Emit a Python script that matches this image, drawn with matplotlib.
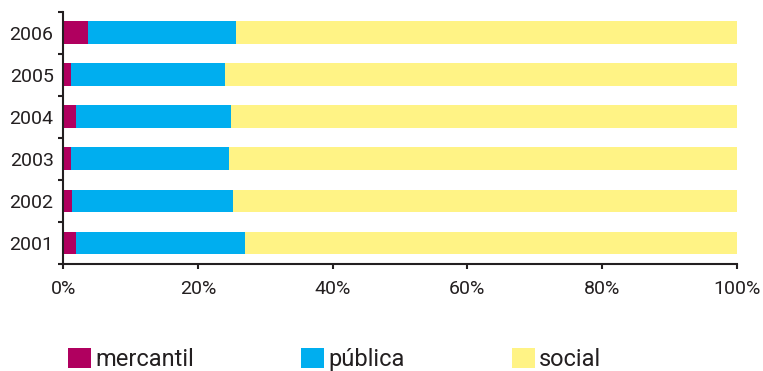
import numpy as np
import matplotlib
matplotlib.use('Agg')
import matplotlib.pyplot as plt
from matplotlib.ticker import FuncFormatter, FixedLocator

# data (share of each sector per year, in %)
years = ['2001', '2002', '2003', '2004', '2005', '2006']
mercantil = [1.9, 1.3, 1.1, 1.9, 1.1, 3.7]
publica = [25.1, 23.9, 23.5, 23.0, 22.9, 22.0]
social = [100 - m - p for m, p in zip(mercantil, publica)]

series_names = ['mercantil', 'pública', 'social']
colors = ['#B0005F', '#00AEEF', '#FFF385']
ink = '#231F20'

plt.rcParams['font.family'] = ['Roboto', 'DejaVu Sans']
plt.rcParams['font.size'] = 14

fig = plt.figure(figsize=(7.63, 3.71), dpi=100)
ax = fig.add_axes([63.3 / 763, 107 / 371, 673.4 / 763, 252.5 / 371])

ypos = np.arange(len(years))
left = np.zeros(len(years))
for vals, name, col in zip([mercantil, publica, social], series_names, colors):
    ax.barh(ypos, vals, left=left, height=0.54, color=col, label=name)
    left = left + np.array(vals)

ax.set_xlim(0, 100)
ax.set_ylim(-0.5, 5.5)
ax.set_xticks(np.arange(0, 101, 20))
ax.xaxis.set_major_formatter(FuncFormatter(lambda v, p: f'{v:.0f}%'))
ax.set_yticks(ypos)
ax.set_yticklabels(years)
ax.yaxis.set_minor_locator(FixedLocator(np.arange(-0.5, 5.6, 1)))

for s in ['top', 'right']:
    ax.spines[s].set_visible(False)
for s in ['left', 'bottom']:
    ax.spines[s].set_color(ink)
    ax.spines[s].set_linewidth(1.5)

ax.tick_params(axis='y', which='major', length=0, pad=7, colors=ink)
ax.tick_params(axis='y', which='minor', length=3.6, width=1.5, color=ink)
ax.tick_params(axis='x', which='major', length=3.6, width=1.5, pad=8, colors=ink)

fig.legend(loc='lower left', bbox_to_anchor=(68 / 763, 0.0), ncol=3,
           frameon=False, borderpad=0, borderaxespad=0, fontsize=17,
           handlelength=0.975, handleheight=0.975, handletextpad=0.17,
           columnspacing=4.55, labelcolor=ink)

fig.savefig('out.png', dpi=100)
